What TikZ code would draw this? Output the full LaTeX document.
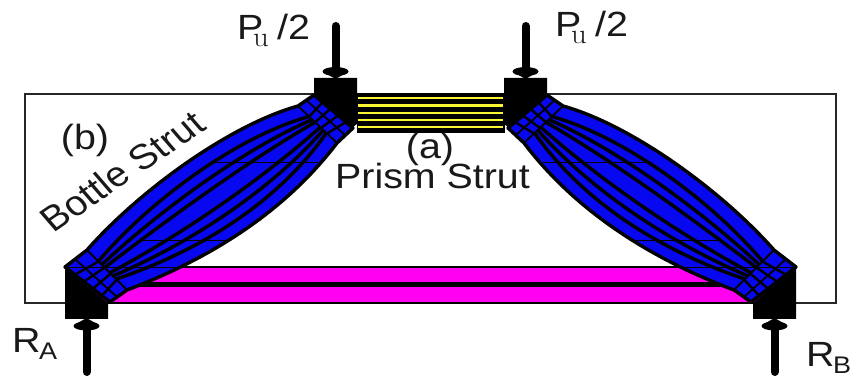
\documentclass[tikz,border=0pt]{standalone}
\usepackage{fontspec}
\setmainfont{Liberation Sans}
\definecolor{strutblue}{RGB}{8,8,240}
\definecolor{tiepink}{RGB}{255,0,240}
\definecolor{prismyellow}{RGB}{250,245,50}
\tikzset{
  frameline/.style={draw=black!85,line width=1.3pt},
  flowline/.style={draw=black,line width=3.4pt},
  crossline/.style={draw=black,line width=1.8pt},
  faintline/.style={draw=black,line width=.4pt},
  label/.style={font=\fontsize{35}{38}\selectfont,text=black!90,inner sep=0pt,xscale=1.125},
  sublabel/.style={font=\fontsize{24}{26}\selectfont,text=black!90,inner sep=0pt,xscale=1.125},
  serifsub/.style={font=\fontfamily{lmr}\fontsize{28}{30}\selectfont,text=black!90,inner sep=0pt,xscale=1.1},
  solidblack/.style={fill=black,draw=none}
}
\newcommand{\halfstrut}{%
  \fill[strutblue,draw=black,line width=3.4pt,line join=round]
    (314,95) -- (298,106) .. controls (230,125) and (140,190) .. (87,250)
    -- (65,267) -- (110,302) -- (127,290)
    .. controls (220,255) and (290,205) .. (337,143) -- (353,128) -- cycle;
  % body lines, interpolated between the two outer edges
  \foreach \f in {.14,.28,.40,.62,.75,.88}{
    \pgfmathsetmacro{\s}{.2+.6*\f}
    \draw[flowline]
      ({298+39*\s},{106+37*\s})
      .. controls ({230+60*\f},{125+80*\f}) and ({140+80*\f},{190+65*\f})
      .. ({87+40*\s},{250+40*\s});
  }
  % nodal zones
  \draw[crossline] (298,106) -- (337,143);
  \draw[crossline] (306,100) -- (345,135);
  \draw[crossline] (87,250) -- (127,290);
  \draw[crossline] (75,259) -- (117,297);
  \foreach \t in {.22,.42,.62,.82}{
    \pgfmathsetmacro{\u}{.12+.76*\t}
    \draw[crossline,line width=2.4pt]
      ({314+39*\t},{95+33*\t}) -- ({298+39*\u},{106+37*\u});
    \draw[crossline,line width=2.4pt]
      ({65+45*\t},{267+35*\t}) -- ({87+40*\u},{250+40*\u});
  }
  \draw[faintline] (215,162) -- (318,162) (140,240) -- (225,240);
  % plates
  \fill[solidblack] (314,78) -- (357,78) -- (357,124) -- (353,127) -- (314,94) -- cycle;
  \fill[solidblack] (65,268) -- (108,303) -- (108,319) -- (65,319) -- cycle;
  % loads
  \coordinate (topa) at (335.5,26);
  \coordinate (topb) at (335.5,70);
  \coordinate (bota) at (86.5,372);
  \coordinate (botb) at (86.5,328);
  \draw[line width=8pt,line cap=round] (topa) -- (topb);
  \draw[line width=8pt,line cap=round] (bota) -- (botb);
  \fill (335.5,71.5) ellipse [x radius=13pt,y radius=4.5pt];
  \fill (325,73) -- (346,73) -- (335.5,79) -- cycle;
  \fill (86.5,326) ellipse [x radius=13pt,y radius=4.5pt];
  \fill (76,324) -- (97,324) -- (86.5,318) -- cycle;
}
\begin{document}
\begin{tikzpicture}[x=1pt,y=-1pt]
\useasboundingbox (0,0) rectangle (852,379);
\fill[white] (0,0) rectangle (852,379);
\draw[frameline] (25,94) rectangle (836,303);
% tie
\fill[tiepink,draw=black,line width=1.2pt] (90,267) rectangle (771,303);
\fill[black] (100,282) rectangle (761,287);
% prism
\fill[black] (357,93) rectangle (505,133);
\foreach \yy in {98,105.5,113,120,127}{
  \fill[prismyellow] (358,\yy-1.4) rectangle (503,\yy+1.4);}
% half struts
\begin{scope}\halfstrut\end{scope}
\begin{scope}[xshift=861pt,xscale=-1]\halfstrut\end{scope}
\draw[black,line width=.7pt] (65,267) -- (180,267) (681,267) -- (796,267);
% labels
\node[label,anchor=base west] (pl) at (237,40) {P};
\node[serifsub,anchor=base west] (pls) at (253,47) {u};
\node[label,anchor=base west] (plt) at (277,40) {/2};
\node[label,anchor=base west] (pr) at (555,37) {P};
\node[serifsub,anchor=base west] (prs) at (571,44) {u};
\node[label,anchor=base west] (prt) at (595,37) {/2};
\node[label] (b) at (85,140) {(b)};
\node[label] (a) at (430,149) {(a)};
\node[label] (prism) at (432.5,176) {Prism Strut};
\node[label,rotate=37.5] (bottle) at (122,171) {Bottle Strut};
\node[label,anchor=base west] (ra) at (12,353) {R};
\node[sublabel,anchor=base west] (ras) at (39,360) {A};
\node[label,anchor=base west] (rb) at (806,367) {R};
\node[sublabel,anchor=base west] (rbs) at (833,374) {B};
\end{tikzpicture}
\end{document}
